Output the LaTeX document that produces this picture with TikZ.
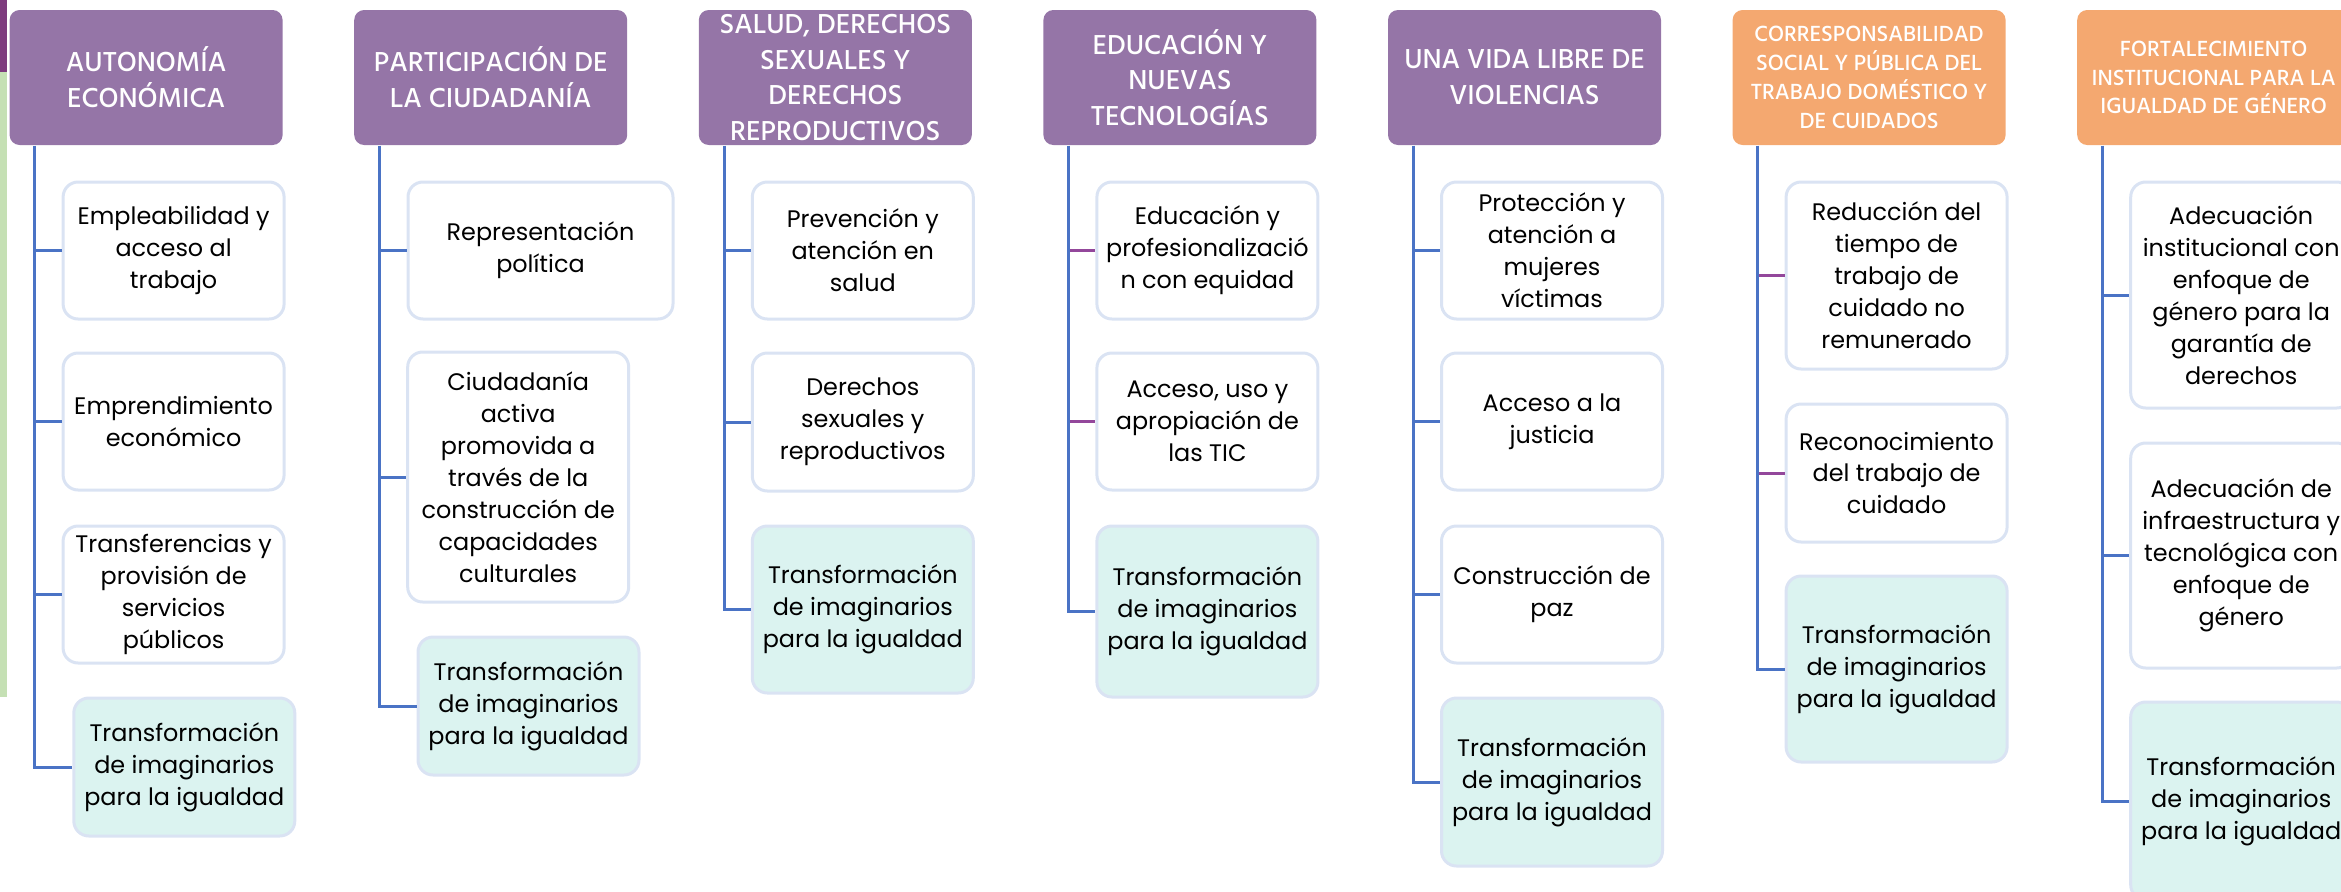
\documentclass[tikz,border=0pt]{standalone}
\usepackage{fontspec}
\setmainfont{Poppins}
\IfFontExistsTF{Hind Madurai Medium}
  {\newfontfamily\hdrfont{Hind Madurai Medium}}
  {\newfontfamily\hdrfont[FakeBold=0.6]{Hind Madurai}}
\usepackage{tikz}
\usepackage{xcolor}
\definecolor{hdrpurple}{RGB}{149,117,167}
\definecolor{hdrorange}{RGB}{244,168,112}
\definecolor{linkblue}{RGB}{74,115,197}
\definecolor{linkpurple}{RGB}{147,71,155}
\definecolor{boxedge}{RGB}{218,227,243}
\definecolor{tealfill}{RGB}{219,243,240}
\definecolor{stripgreen}{RGB}{197,224,180}
\definecolor{strippurple}{RGB}{126,59,126}

\begin{document}
\begin{tikzpicture}[x=1mm, y=-1mm,
    hdr/.style={rectangle, rounded corners=1mm, fill=hdrpurple, text=white,
                minimum width=27.3mm, minimum height=13.5mm, inner sep=0pt,
                align=center, font=\hdrfont\fontsize{8}{10.2}\selectfont},
    hdrsmall/.style={hdr, fill=hdrorange, font=\hdrfont\fontsize{6.4}{8.2}\selectfont},
    item/.style={rectangle, rounded corners=1.5mm, draw=boxedge, line width=0.3mm,
                 fill=white, minimum width=22.1mm, inner sep=0pt, align=center,
                 font=\fontsize{6.8}{9.1}\selectfont},
    imag/.style={item, fill=tealfill},
    trunk/.style={linkblue, line width=0.3mm},
    twig/.style={linkpurple, line width=0.3mm}
]
\clip (0,0) rectangle (234.1,89.2);

% strip on the left edge
\fill[strippurple] (0,0) rectangle (0.7,7.2);
\fill[stripgreen] (0,7.2) rectangle (0.7,69.7);

% headers
\node[hdr] (h1) at (14.61,7.75) {AUTONOMÍA\\ECONÓMICA};
\node[hdr] (h2) at (49.07,7.75) {PARTICIPACIÓN DE\\LA CIUDADANÍA};
\node[hdr] (h3) at (83.53,7.75) {SALUD, DERECHOS\\SEXUALES Y\\DERECHOS\\REPRODUCTIVOS};
\node[hdr] (h4) at (117.99,7.75) {EDUCACIÓN Y\\NUEVAS\\TECNOLOGÍAS};
\node[hdr] (h5) at (152.45,7.75) {UNA VIDA LIBRE DE\\VIOLENCIAS};
\node[hdrsmall] (h6) at (186.91,7.75) {CORRESPONSABILIDAD\\SOCIAL Y PÚBLICA DEL\\TRABAJO DOMÉSTICO Y\\DE CUIDADOS};
\node[hdrsmall] (h7) at (221.37,7.75) {FORTALECIMIENTO\\INSTITUCIONAL PARA LA\\IGUALDAD DE GÉNERO};

% column 1
\node[item, minimum height=13.7mm] (c11) at (17.36,25.05) {Empleabilidad y\\acceso al\\trabajo};
\node[item, minimum height=13.7mm] (c12) at (17.36,42.15) {Emprendimiento\\económico};
\node[item, minimum height=13.7mm] (c13) at (17.36,59.45) {Transferencias y\\provisión de\\servicios\\públicos};
\node[imag, minimum height=13.8mm] (c14) at (18.43,76.7) {Transformación\\de imaginarios\\para la igualdad};

% column 2
\node[item, minimum width=26.5mm, minimum height=13.7mm] (c21) at (54.05,25.05) {Representación\\política};
\node[item, minimum height=25mm] (c22) at (51.82,47.7) {Ciudadanía\\activa\\promovida a\\través de la\\construcción de\\capacidades\\culturales};
\node[imag, minimum height=13.8mm] (c23) at (52.85,70.6) {Transformación\\de imaginarios\\para la igualdad};

% column 3
\node[item, minimum height=13.7mm] (c31) at (86.28,25.05) {Prevención y\\atención en\\salud};
\node[item, minimum height=13.8mm] (c32) at (86.28,42.2) {Derechos\\sexuales y\\reproductivos};
\node[imag, minimum height=16.7mm] (c33) at (86.28,60.95) {Transformación\\de imaginarios\\para la igualdad};

% column 4
\node[item, minimum height=13.7mm] (c41) at (120.74,25.05) {Educación y\\profesionalizació\\n con equidad};
\node[item, minimum height=13.7mm] (c42) at (120.74,42.15) {Acceso, uso y\\apropiación de\\las TIC};
\node[imag, minimum height=17.1mm] (c43) at (120.74,61.15) {Transformación\\de imaginarios\\para la igualdad};

% column 5
\node[item, minimum height=13.7mm] (c51) at (155.2,25.05) {Protección y\\atención a\\mujeres\\víctimas};
\node[item, minimum height=13.7mm] (c52) at (155.2,42.15) {Acceso a la\\justicia};
\node[item, minimum height=13.7mm] (c53) at (155.2,59.45) {Construcción de\\paz};
\node[imag, minimum height=16.8mm] (c54) at (155.2,78.2) {Transformación\\de imaginarios\\para la igualdad};

% column 6
\node[item, minimum height=18.7mm] (c61) at (189.66,27.55) {Reducción del\\tiempo de\\trabajo de\\cuidado no\\remunerado};
\node[item, minimum height=13.8mm] (c62) at (189.66,47.3) {Reconocimiento\\del trabajo de\\cuidado};
\node[imag, minimum height=18.6mm] (c63) at (189.66,66.9) {Transformación\\de imaginarios\\para la igualdad};

% column 7
\node[item, minimum height=22.6mm] (c71) at (224.12,29.5) {Adecuación\\institucional con\\enfoque de\\género para la\\garantía de\\derechos};
\node[item, minimum height=22.5mm] (c72) at (224.12,55.55) {Adecuación de\\infraestructura y\\tecnológica con\\enfoque de\\género};
\node[imag, minimum height=19.8mm] (c73) at (224.12,80.1) {Transformación\\de imaginarios\\para la igualdad};

% trunk points under each header
\coordinate (t1) at ([xshift=2.6mm]h1.south west);
\coordinate (t2) at ([xshift=2.6mm]h2.south west);
\coordinate (t3) at ([xshift=2.6mm]h3.south west);
\coordinate (t4) at ([xshift=2.6mm]h4.south west);
\coordinate (t5) at ([xshift=2.6mm]h5.south west);
\coordinate (t6) at ([xshift=2.6mm]h6.south west);
\coordinate (t7) at ([xshift=2.6mm]h7.south west);

% branches
\draw[trunk] (t1 |- c11.west) -- (c11.west);
\draw[trunk] (t1 |- c12.west) -- (c12.west);
\draw[trunk] (t1 |- c13.west) -- (c13.west);
\draw[trunk] (t2 |- c21.west) -- (c21.west);
\draw[trunk] (t2 |- c22.west) -- (c22.west);
\draw[trunk] (t3 |- c31.west) -- (c31.west);
\draw[trunk] (t3 |- c32.west) -- (c32.west);
\draw[twig] (t4 |- c41.west) -- (c41.west);
\draw[twig] (t4 |- c42.west) -- (c42.west);
\draw[trunk] (t5 |- c51.west) -- (c51.west);
\draw[trunk] (t5 |- c52.west) -- (c52.west);
\draw[trunk] (t5 |- c53.west) -- (c53.west);
\draw[twig] (t6 |- c61.west) -- (c61.west);
\draw[twig] (t6 |- c62.west) -- (c62.west);
\draw[trunk] (t7 |- c71.west) -- (c71.west);
\draw[trunk] (t7 |- c72.west) -- (c72.west);

% trunks down to the last box
\draw[trunk] (t1) |- (c14.west);
\draw[trunk] (t2) |- (c23.west);
\draw[trunk] (t3) |- (c33.west);
\draw[trunk] (t4) |- (c43.west);
\draw[trunk] (t5) |- (c54.west);
\draw[trunk] (t6) |- (c63.west);
\draw[trunk] (t7) |- (c73.west);
\end{tikzpicture}
\end{document}
